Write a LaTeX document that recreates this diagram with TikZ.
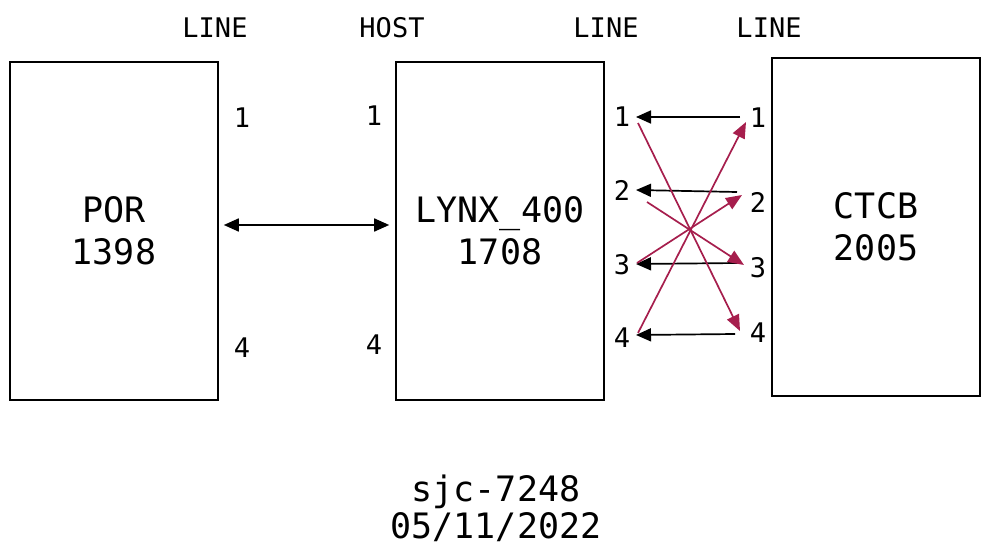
\documentclass[tikz,border=0pt]{standalone}
\usepackage{fontspec}
\setmainfont{DejaVu Sans Mono}
\usetikzlibrary{arrows.meta}
\definecolor{crimson}{HTML}{A61E4D}
\begin{document}
\begin{tikzpicture}[x=1pt,y=-1pt,
  unitbox/.style={draw, line width=1.6pt, minimum width=208pt, minimum height=338pt,
    inner sep=0pt, align=center, font=\fontsize{35}{42}\selectfont},
  tag/.style={inner sep=0pt, font=\fontsize{27}{30}\selectfont},
  port/.style={inner sep=0pt, font=\fontsize{27}{30}\selectfont},
  title/.style={inner sep=0pt, align=center, font=\fontsize{35}{37}\selectfont},
  blk/.style={draw=black, line width=1.7pt, -{Triangle[length=15pt,width=13pt]}},
  both/.style={draw=black, line width=1.7pt, {Triangle[length=15pt,width=13pt]}-{Triangle[length=15pt,width=13pt]}},
  red/.style={draw=crimson, line width=1.7pt, -{Triangle[length=16pt,width=13pt]}}]
\useasboundingbox (0,0) rectangle (991,559);

% equipment boxes
\node[unitbox] (por)  at (114,231) {POR\\1398};
\node[unitbox] (lynx) at (500,231) {LYNX\_400\\1708};
\node[unitbox] (ctcb) at (876,227) {CTCB\\2005};

% column headings
\node[tag] (hl1) at (215,28) {LINE};
\node[tag] (hh)  at (392,28) {HOST};
\node[tag] (hl2) at (606,28) {LINE};
\node[tag] (hl3) at (769,28) {LINE};

% port numbers
\node[port] (pa1) at (242,118) {1};
\node[port] (pa4) at (242,348) {4};
\node[port] (pb1) at (374,116) {1};
\node[port] (pb4) at (374,345) {4};
\node[port] (l1) at (622,117) {1};
\node[port] (l2) at (622,190) {2};
\node[port] (l3) at (622,265) {3};
\node[port] (l4) at (622,338) {4};
\node[port] (r1) at (758,118) {1};
\node[port] (r2) at (758,202) {2};
\node[port] (r3) at (758,268) {3};
\node[port] (r4) at (758,333) {4};

% host link
\draw[both] ([xshift=5pt]por.east |- 0,225) -- ([xshift=-6pt]lynx.west |- 0,225);

% return paths, right to left
\coordinate (r1o) at (740,117); \coordinate (l1i) at (636,117);
\coordinate (r2o) at (737,192); \coordinate (l2i) at (636,190);
\coordinate (r3o) at (738,263); \coordinate (l3i) at (636,264);
\coordinate (r4o) at (735,334); \coordinate (l4i) at (636,335);
\draw[blk] (r1o) -- (l1i);
\draw[blk] (r2o) -- (l2i);
\draw[blk] (r3o) -- (l3i);
\draw[blk] (r4o) -- (l4i);

% crossed forward paths, left to right
\coordinate (l1o) at (638,123); \coordinate (r4i) at (740,331);
\coordinate (l2o) at (647,202); \coordinate (r3i) at (744,265);
\coordinate (l3o) at (637,263); \coordinate (r2i) at (742,195);
\coordinate (l4o) at (638,333); \coordinate (r1i) at (746,122);
\draw[red] (l1o) -- (r4i);
\draw[red] (l2o) -- (r3i);
\draw[red] (l3o) -- (r2i);
\draw[red] (l4o) -- (r1i);

% caption
\node[title] (cap) at (496,508) {sjc-7248\\05/11/2022};
\end{tikzpicture}
\end{document}
